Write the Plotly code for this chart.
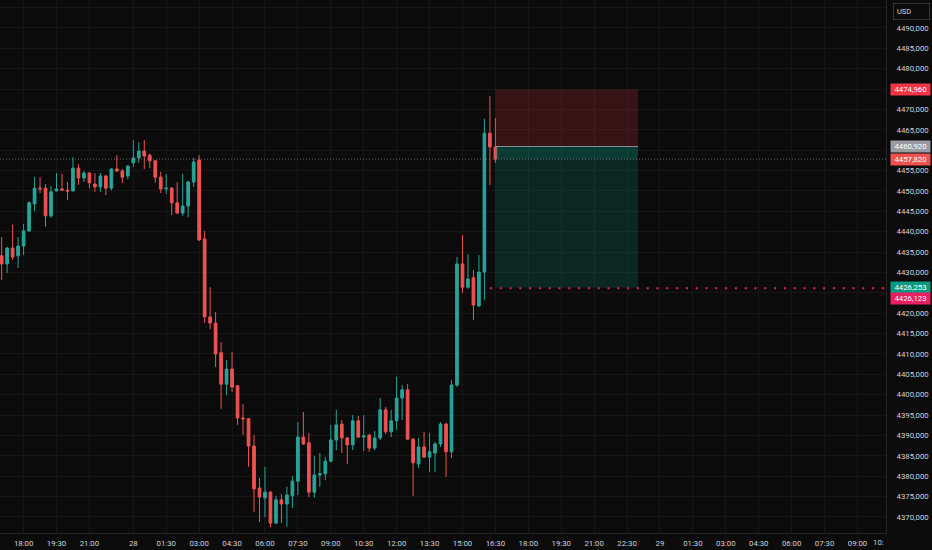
import plotly.graph_objects as go

# 15 minute candles (index = bar number on the axis)
opens = [4434.1, 4432.1, 4436.0, 4434.1, 4436.5, 4440.2, 4446.8, 4450.7, 4450.7, 4443.9,
         4450.0, 4450.5, 4450.2, 4450.0, 4455.6, 4453.2, 4454.4, 4451.7, 4451.0, 4453.7,
         4450.7, 4455.4, 4454.9, 4453.7, 4456.9, 4458.1, 4459.8, 4458.8, 4457.4, 4453.4,
         4450.5, 4450.7, 4447.1, 4444.6, 4446.3, 4452.2, 4457.6, 4438.2, 4419.1, 4417.6,
         4410.3, 4402.6, 4406.3, 4402.2, 4394.3, 4394.1, 4387.4, 4377.1, 4374.7, 4376.1,
         4368.5, 4374.2, 4373.2, 4375.2, 4378.8, 4389.6, 4388.2, 4376.1, 4380.3, 4380.6,
         4383.7, 4388.9, 4392.8, 4389.4, 4387.7, 4393.6, 4389.6, 4390.1, 4386.9, 4389.4,
         4396.3, 4390.9, 4393.6, 4399.2, 4401.2, 4389.1, 4383.0, 4387.2, 4384.7, 4385.7,
         4387.9, 4392.8, 4386.0, 4402.4, 4432.1, 4426.4, 4428.7, 4421.8, 4430.1, 4464.2,
         4460.8]
highs = [4438.7, 4436.3, 4441.7, 4438.7, 4441.9, 4447.5, 4453.4, 4453.4, 4451.7, 4451.2,
         4454.4, 4454.2, 4452.2, 4458.3, 4456.6, 4454.9, 4454.6, 4454.4, 4454.4, 4453.9,
         4455.6, 4458.8, 4455.4, 4456.4, 4462.5, 4462.0, 4462.5, 4459.2, 4457.6, 4454.7,
         4454.2, 4451.0, 4452.2, 4454.2, 4452.5, 4458.1, 4458.8, 4440.2, 4426.4, 4420.3,
         4412.9, 4408.5, 4410.5, 4402.4, 4397.7, 4394.3, 4390.1, 4379.6, 4382.3, 4376.4,
         4375.2, 4375.6, 4377.4, 4380.1, 4393.3, 4395.8, 4390.6, 4385.0, 4385.7, 4384.7,
         4392.6, 4396.3, 4393.8, 4389.6, 4395.0, 4394.8, 4395.0, 4390.4, 4391.1, 4399.2,
         4397.0, 4396.3, 4404.4, 4402.4, 4402.6, 4389.4, 4389.4, 4390.9, 4390.6, 4388.4,
         4393.3, 4393.1, 4403.6, 4433.8, 4439.2, 4434.5, 4430.6, 4434.3, 4467.7, 4473.3,
         4467.9]
lows = [4428.2, 4429.9, 4433.1, 4431.1, 4434.3, 4439.9, 4445.1, 4449.5, 4441.2, 4443.4,
        4449.9, 4450.1, 4447.8, 4449.9, 4451.5, 4452.2, 4450.7, 4449.8, 4449.8, 4449.0,
        4450.2, 4454.7, 4452.0, 4452.9, 4455.9, 4456.9, 4455.4, 4455.6, 4452.0, 4449.5,
        4449.3, 4444.1, 4444.4, 4443.9, 4443.6, 4451.0, 4437.7, 4417.6, 4416.1, 4406.8,
        4396.5, 4399.9, 4400.7, 4392.6, 4390.1, 4382.3, 4371.2, 4368.8, 4370.0, 4367.5,
        4368.3, 4368.5, 4367.6, 4372.2, 4375.4, 4387.7, 4374.9, 4374.7, 4377.4, 4379.1,
        4383.5, 4386.4, 4385.7, 4383.0, 4386.4, 4389.4, 4386.2, 4386.0, 4386.4, 4388.9,
        4390.4, 4389.6, 4391.4, 4393.8, 4388.9, 4375.2, 4382.0, 4384.5, 4381.0, 4381.0,
        4387.2, 4379.8, 4384.5, 4401.9, 4425.0, 4426.0, 4418.3, 4421.5, 4423.3, 4451.5,
        4456.9]
closes = [4432.1, 4436.0, 4433.8, 4436.5, 4440.2, 4447.1, 4450.7, 4450.5, 4443.9, 4449.8,
          4450.5, 4450.2, 4450.0, 4455.6, 4453.2, 4454.4, 4452.0, 4451.0, 4453.7, 4450.7,
          4455.4, 4454.9, 4453.4, 4456.1, 4458.1, 4459.8, 4458.6, 4457.4, 4453.4, 4450.5,
          4450.7, 4447.1, 4444.6, 4446.3, 4452.2, 4457.1, 4438.0, 4419.1, 4417.6, 4410.0,
          4402.6, 4406.3, 4401.9, 4394.3, 4394.1, 4387.4, 4376.9, 4374.9, 4376.1, 4368.5,
          4374.2, 4373.2, 4375.4, 4378.8, 4389.6, 4387.9, 4376.1, 4380.3, 4380.6, 4383.7,
          4388.9, 4392.6, 4389.4, 4387.7, 4393.6, 4389.6, 4389.9, 4386.9, 4389.4, 4396.3,
          4390.9, 4393.6, 4399.2, 4401.2, 4389.1, 4383.3, 4387.2, 4384.7, 4386.0, 4387.9,
          4392.8, 4386.0, 4402.4, 4432.1, 4426.4, 4428.4, 4422.0, 4430.1, 4464.2, 4460.8,
          4457.82]
bars = list(range(len(opens)))

# time axis labels (bar number -> label)
tick_bars = [4, 10, 16, 24, 30, 36, 42, 48, 54, 60, 66, 72, 78, 84, 90,
             96, 102, 108, 114, 120, 126, 132, 138, 144, 150, 156]
tick_labels = ["18:00", "19:30", "21:00", "28", "01:30", "03:00", "04:30", "06:00",
               "07:30", "09:00", "10:30", "12:00", "13:30", "15:00", "16:30",
               "18:00", "19:30", "21:00", "22:30", "29", "01:30", "03:00", "04:30",
               "06:00", "07:30", "09:00"]

price_ticks = list(range(4370, 4500, 5))
hidden_ticks = [4425, 4460, 4475, 4495]  # covered by the price tags

# short position tool
entry = 4460.92
stop = 4474.96
target = 4426.253
pos_start = 90
pos_end = 116
alert_level = 4426.123
alert_start = 89

BG = "#0b0b0b"
GRID = "#161616"
UP = "#26a69a"
DOWN = "#ef5350"
TXT = "#d1d4dc"
FONT = "Roboto, sans-serif"
FS = 7.8

fig = go.Figure(go.Candlestick(
    x=bars, open=opens, high=highs, low=lows, close=closes,
    increasing=dict(line=dict(color=UP, width=1), fillcolor=UP),
    decreasing=dict(line=dict(color=DOWN, width=1), fillcolor=DOWN),
    whiskerwidth=0, hoverinfo="skip",
))

last = closes[-1]
x_end = 161.2

shapes = [
    # stop zone
    dict(type="rect", xref="x", yref="y", x0=pos_start, x1=pos_end, y0=entry, y1=stop,
         fillcolor="rgba(242,54,69,0.2)", line=dict(width=0)),
    # profit zone
    dict(type="rect", xref="x", yref="y", x0=pos_start, x1=pos_end, y0=target, y1=entry,
         fillcolor="rgba(8,153,129,0.2)", line=dict(width=0)),
    # open p&l part (entry -> current price)
    dict(type="rect", xref="x", yref="y", x0=pos_start, x1=pos_end, y0=last, y1=entry,
         fillcolor="rgba(8,153,129,0.18)", line=dict(width=0)),
    dict(type="line", xref="x", yref="y", x0=pos_start, x1=pos_end, y0=entry, y1=entry,
         line=dict(color="#8a8e96", width=1)),
    # current price line
    dict(type="line", xref="paper", yref="y", x0=0, x1=1, y0=last, y1=last,
         line=dict(color="rgba(160,160,160,0.55)", width=1, dash="1px,2px")),
    # alert line
    dict(type="line", xref="x", yref="y", x0=alert_start, x1=x_end, y0=alert_level, y1=alert_level,
         line=dict(color="#e91e63", width=2, dash="2px,7.8px")),
]


def fmt(v):
    return f"{v:.3f}".replace(".", ",")


def tag(price, color, shift=0):
    return dict(xref="paper", yref="y", x=1 + 4 / 886, y=price, xanchor="left", yanchor="middle",
                yshift=shift, text=fmt(price), showarrow=False, bgcolor=color, borderpad=1,
                font=dict(color="#ffffff", size=FS, family=FONT), width=37, align="center")


annotations = [
    tag(stop, "#f23645"),
    tag(entry, "#9a9ca3"),
    tag(last, DOWN),
    tag(target, "#089981"),
    tag(alert_level, "#e91e63", shift=-10),
    dict(xref="paper", yref="paper", x=1 + 7 / 886, y=1, yshift=-3, xanchor="left", yanchor="top",
         text="USD", showarrow=False, bgcolor=BG, bordercolor="#363636", borderwidth=1, borderpad=3,
         font=dict(color="#d1d4dc", size=7.5, family=FONT), width=29, align="left"),
    dict(xref="paper", yref="paper", x=1, y=0, yshift=-3, xanchor="right", yanchor="top",
         text="10:", showarrow=False, font=dict(color=TXT, size=FS, family=FONT)),
]

fig.update_layout(
    width=932, height=550,
    margin=dict(l=0, r=46, t=0, b=17),
    paper_bgcolor=BG, plot_bgcolor=BG,
    showlegend=False,
    shapes=shapes, annotations=annotations,
    font=dict(family=FONT, size=FS, color=TXT),
    xaxis=dict(range=[-0.3, x_end], tickvals=tick_bars, ticktext=tick_labels,
               showgrid=True, gridcolor=GRID, zeroline=False, rangeslider=dict(visible=False),
               showline=True, linecolor="#262626", ticks="", ticklabelstandoff=3,
               tickfont=dict(size=FS, color=TXT)),
    yaxis=dict(side="right", range=[4366.07, 4496.87], tickvals=price_ticks,
               ticktext=["" if t in hidden_ticks else fmt(t) for t in price_ticks],
               showgrid=True, gridcolor=GRID, zeroline=False, showline=True, linecolor="#262626",
               ticks="", ticklabelstandoff=8, tickfont=dict(size=FS, color=TXT)),
)

fig.write_html("out.html", config={"displayModeBar": False},
               post_script="document.body.style.margin='0';document.body.style.overflow='hidden';")
